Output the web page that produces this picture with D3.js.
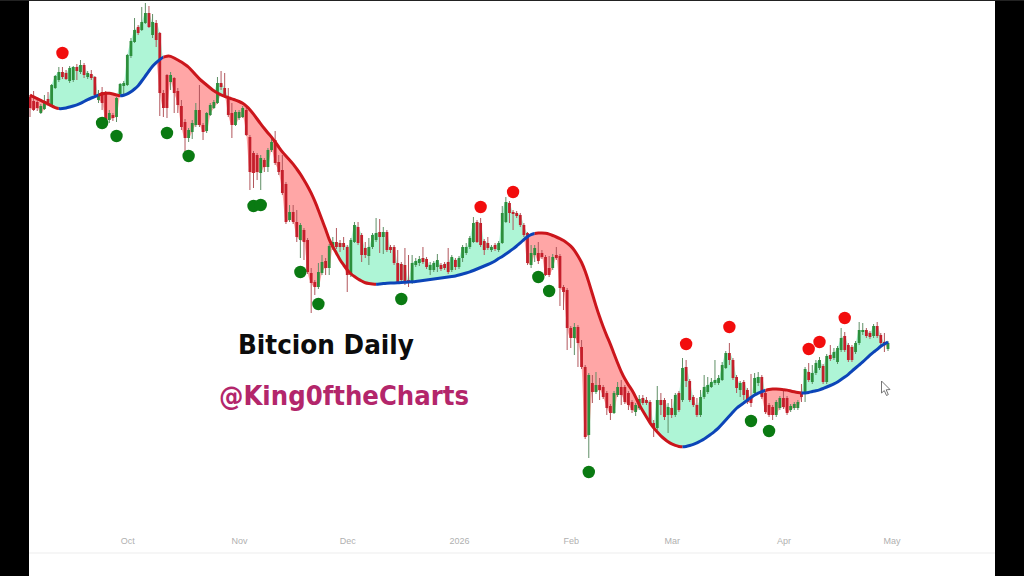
<!DOCTYPE html>
<html><head><meta charset="utf-8">
<script src="https://cdn.jsdelivr.net/npm/d3@7"></script>
<style>
html,body{margin:0;padding:0;background:#fff;width:1024px;height:576px;overflow:hidden}
svg{display:block}
</style></head><body>
<svg id="chart" width="1024" height="576"></svg>
<script>
// Values in chart points (the reference shows no price axis).
const opens=[403,399,398,387,391,401,395,412,420,428,
427,419,420,433,428,435,423,426,423,400,
408,407,380,385,383,406,414,415,444,458,
473,470,477,487,465,477,467,407,425,418,
422,409,394,378,362,368,375,390,375,369,
385,392,397,417,412,403,387,375,382,383,
390,363,347,345,327,340,333,350,360,338,
330,316,280,288,278,260,270,260,227,218,
213,227,239,232,253,258,257,257,253,225,
258,273,265,252,244,253,260,268,263,268,
253,253,237,236,235,220,218,235,237,242,
241,230,230,233,235,236,238,230,240,233,
242,247,253,258,278,277,259,257,250,255,
250,257,278,297,288,287,285,275,267,235,
245,247,247,243,232,232,245,244,213,210,
172,162,173,153,133,65,117,108,115,113,
107,94,87,105,113,113,107,98,88,92,
102,100,98,77,72,100,100,85,92,85,
107,100,133,119,103,95,85,103,108,113,
117,117,120,132,147,140,123,110,118,110,
103,107,117,123,107,95,93,85,92,102,
102,90,92,92,107,107,128,118,127,132,
134,118,145,142,138,150,164,155,153,148,
157,168,170,167,164,174,165,158,151];
const closes=[392,390,392,394,397,396,415,424,428,423,
421,432,433,429,435,425,427,422,405,406,
397,380,387,382,402,416,417,445,459,470,
467,478,487,473,478,460,407,392,392,425,
407,395,373,362,370,377,390,375,368,387,
395,398,417,413,404,385,375,388,388,392,
365,328,327,328,342,333,350,358,337,328,
307,278,288,278,263,275,258,228,217,213,
228,238,232,254,258,253,253,253,225,260,
275,257,245,245,253,265,267,263,268,250,
250,237,218,220,217,217,237,239,241,238,
233,235,237,240,231,232,228,243,233,242,
253,253,262,277,258,255,250,252,253,251,
257,287,298,287,286,284,275,265,237,247,
252,239,243,225,225,243,242,212,208,172,
162,173,157,133,63,125,108,115,110,103,
92,87,107,113,105,98,95,90,95,101,
97,97,78,72,100,95,83,93,85,105,
90,132,119,100,95,85,103,113,115,118,
120,122,135,147,140,122,112,117,105,98,
97,122,123,103,88,85,85,98,102,93,
87,94,96,98,103,131,120,127,137,140,
118,144,141,148,152,162,150,140,140,157,
170,170,164,163,174,164,157,155,157];
const highs=[405,409,400,396,405,408,416,425,433,433,
430,434,434,436,440,437,429,430,424,410,
413,409,390,387,403,417,419,446,462,482,
475,493,497,494,486,480,468,410,426,428,
423,412,400,381,372,380,397,415,377,388,
397,400,423,429,427,412,397,390,390,394,
392,365,349,347,345,342,352,364,369,345,
345,318,295,295,290,277,272,262,232,220,
237,245,242,256,263,272,260,263,255,262,
278,278,267,258,262,267,282,281,273,270,
255,255,250,238,252,245,245,242,244,253,
243,238,239,246,237,238,252,245,242,244,
255,257,264,283,280,282,261,263,255,257,
259,294,303,299,290,289,287,277,268,255,
255,258,250,245,244,246,253,246,215,212,
174,177,175,160,135,127,125,128,122,115,
109,96,109,118,120,115,109,100,97,105,
105,103,100,80,114,107,102,97,101,107,
109,142,140,121,105,102,110,125,123,122,
140,125,138,149,157,142,125,119,120,112,
126,127,128,125,109,97,95,100,104,110,
104,96,98,100,116,133,137,135,140,143,
136,146,155,152,154,172,168,157,155,159,
178,177,172,169,176,178,167,167,159];
const lows=[383,389,389,386,390,394,394,411,418,421,
420,417,418,420,426,422,421,420,403,397,
390,378,377,379,378,404,405,414,442,457,
465,469,476,472,462,453,384,383,382,410,
387,387,370,347,358,361,373,373,360,367,
384,391,396,410,402,383,362,374,380,382,
364,310,312,320,310,328,328,348,335,325,
305,276,278,276,258,242,240,226,187,205,
211,225,225,225,250,251,248,250,208,223,
257,255,238,242,235,251,258,247,246,248,
247,235,216,218,215,213,216,233,234,236,
231,225,228,228,229,230,226,228,230,231,
238,245,251,257,257,253,245,250,248,249,
248,256,277,277,270,282,273,263,235,232,
238,236,241,224,223,230,240,194,190,150,
152,145,133,131,61,42,97,106,100,101,
85,80,86,103,95,96,90,87,84,90,
95,95,76,63,70,85,80,67,82,83,
88,98,113,98,93,83,83,101,106,112,
115,115,119,131,135,120,107,103,100,96,
93,105,114,101,86,83,80,83,90,91,
85,88,90,90,98,98,118,116,125,130,
116,116,139,140,136,148,148,138,138,146,
155,165,162,161,162,162,154,148,149];
const maValues=[405,403,401.4,399.6,397.8,396,394,392.4,391.2,391.4,
392,393,394,395,396.5,398.5,400.5,402,403.5,405,
406,406.8,407,406,405,404,404.7,406,408,411,
414,419,424,429,434,437.5,440.5,443,444,444,
442,440,438,435.5,433,429,425,421,418,415,
412,409,407,405,403.5,402.5,401,400,398.5,397,
394,390.5,386,381,376,371.5,367,363,358,353,
348,344,340,336,331,326,320,314,307,299,
290,280,271,260,253,247,240,235,230,226,
223.5,221,219,217,216.5,216,215.5,216,216.5,216.8,
217,217,217.2,217.5,217.7,218,218.2,218.5,219,219.5,
220,220.5,221,221.5,222,222.5,223,223.5,224,225,
226,227,228,229.5,231,232.5,234,235.5,237,239,
241.5,243.5,246,248.5,251,254,257,260.5,263.5,265.5,
266.5,267,267,267,266,264.5,263,261.5,259.5,257,
254,250,244,238,229,218,206,194,183,173,
164,156,146,137,128,121,115,110,103,95,
89,83,77,72,68,64,61,58,56,54.5,
53.5,53,53.5,54.5,55.5,57,59,61,63.5,66,
69,72,76,80,84,88,92,94.5,97,100,
102.5,105,107,108.5,109.5,110.5,111,111,110.7,110.3,
110,109,108.2,107.5,107,107,107.5,108.5,109.2,110,
111.5,113,114.5,116,118,120.5,123,125.5,129,132,
135,138,141.5,145,148,150.5,154,156,158];
// candle index where the moving average changes colour (starts falling = red)
const trendBreaks=[0,8,19,25,37,96,140,181,204,214,238];
const sellIdx=[9,125,134,182,194,216,219,226];
const sellVal=[447,293,308,156,173,151,158,182];
const buyIdx=[20,24,38,44,62,64,75,80,103,141,144,155,200,205];
const buyVal=[377,364,367,344,294,295,228,196,201,223,209,28,79,69];
const tickLabels=["Oct","Nov","Dec","2026","Feb","Mar","Apr","May"];
const tickDates=[[2025,9],[2025,10],[2025,11],[2026,0],[2026,1],[2026,2],[2026,3],[2026,4]];
const titleText="Bitcion Daily";
const handleText="@King0ftheCharts";

const start=new Date(Date.UTC(2025,8,4));
const dates=opens.map((_,i)=>d3.utcDay.offset(start,i));
const x=d3.scaleUtc().domain([start,dates[dates.length-1]]).range([30,888]);
const y=d3.scaleLinear().domain([0,500]).range([500,0]);
const svg=d3.select("#chart");
svg.append("rect").attr("width",1024).attr("height",576).attr("fill","#fff");
const g=svg.append("g").style("filter","blur(0.45px)");

const GREENFILL="#aef5d6",REDFILL="#ffa6a6";
const area=d3.area().x((d,i)=>x(dates[i])).curve(d3.curveMonotoneX);
g.append("path")
 .attr("fill",GREENFILL)
 .attr("d",area.y0(d=>y(d)).y1((d,i)=>y(Math.max(d,opens[i],closes[i])))(maValues));
g.append("path")
 .attr("fill",REDFILL)
 .attr("d",area.y0(d=>y(d)).y1((d,i)=>y(Math.min(d,opens[i],closes[i])))(maValues));

const BODYG="#2c8f3c",BODYR="#c41f2b",WICKG="#5f8f66",WICKR="#b2565c";
const candles=g.append("g");
opens.forEach((o,i)=>{
  const c=closes[i],up=c>=o,cx=x(dates[i]);
  candles.append("line").attr("x1",cx).attr("x2",cx).attr("y1",y(highs[i])).attr("y2",y(lows[i]))
    .attr("stroke",up?WICKG:WICKR).attr("stroke-width",1);
  candles.append("rect").attr("x",cx-1.4).attr("width",2.8)
    .attr("y",y(Math.max(o,c))).attr("height",Math.max(1,Math.abs(y(o)-y(c))))
    .attr("fill",up?BODYG:BODYR);
});

const defs=svg.append("defs");
const maPath=d3.line().x((d,i)=>x(dates[i])).y(d=>y(d)).curve(d3.curveBasis)(maValues);
for(let s=0;s<trendBreaks.length-1;s++){
  const a=x(dates[trendBreaks[s]])-(s===0?3:0), b=x(dates[trendBreaks[s+1]])+(s===trendBreaks.length-2?3:0);
  defs.append("clipPath").attr("id","seg"+s).append("rect").attr("x",a).attr("width",b-a).attr("y",0).attr("height",576);
  g.append("path").attr("d",maPath).attr("fill","none").attr("clip-path","url(#seg"+s+")")
   .attr("stroke",s%2===0?"#cb161c":"#0c45b8").attr("stroke-width",3);
}

g.selectAll("circle.sell").data(sellIdx).join("circle").attr("class","sell")
 .attr("cx",d=>x(dates[d])).attr("cy",(d,i)=>y(sellVal[i])).attr("r",6.2).attr("fill","#f20d0d");
g.selectAll("circle.buy").data(buyIdx).join("circle").attr("class","buy")
 .attr("cx",d=>x(dates[d])).attr("cy",(d,i)=>y(buyVal[i])).attr("r",6.2).attr("fill","#0a7a12");

const axis=d3.axisBottom(x).tickValues(tickDates.map(t=>new Date(Date.UTC(t[0],t[1],1))))
 .tickFormat((d,i)=>tickLabels[i]).tickSize(0).tickPadding(0);
const ax=svg.append("g").attr("transform","translate(0,538)").call(axis);
ax.select(".domain").remove();
ax.selectAll("text").attr("fill","#b0b0b0").style("font","9px 'Liberation Sans',sans-serif");
svg.append("line").attr("x1",29).attr("x2",995).attr("y1",553).attr("y2",553).attr("stroke","#f3f3f3").attr("stroke-width",1.5);

svg.append("text").text(titleText).attr("x",238).attr("y",354)
 .attr("fill","#0c0c0c").style("font","bold 26.5px 'DejaVu Sans',sans-serif").attr("textLength",176).attr("lengthAdjust","spacingAndGlyphs");
svg.append("text").text(handleText).attr("x",219).attr("y",405)
 .attr("fill","#b3266b").style("font","bold 26.5px 'DejaVu Sans',sans-serif").attr("textLength",250).attr("lengthAdjust","spacingAndGlyphs");

// mouse pointer caught in the screenshot
svg.append("path").attr("d","M881.5 381 L881.5 393 L884.3 390.6 L886.5 395.5 L888.3 394.6 L886.2 389.8 L890 389.5 Z")
 .attr("fill","#fff").attr("stroke","#666").attr("stroke-width",0.9);

svg.append("rect").attr("x",0).attr("y",0).attr("width",29).attr("height",576).attr("fill","#000");
svg.append("rect").attr("x",995).attr("y",0).attr("width",29).attr("height",576).attr("fill","#000");
svg.append("rect").attr("x",0).attr("y",0).attr("width",1024).attr("height",1).attr("fill","#222");
</script>
</body></html>
